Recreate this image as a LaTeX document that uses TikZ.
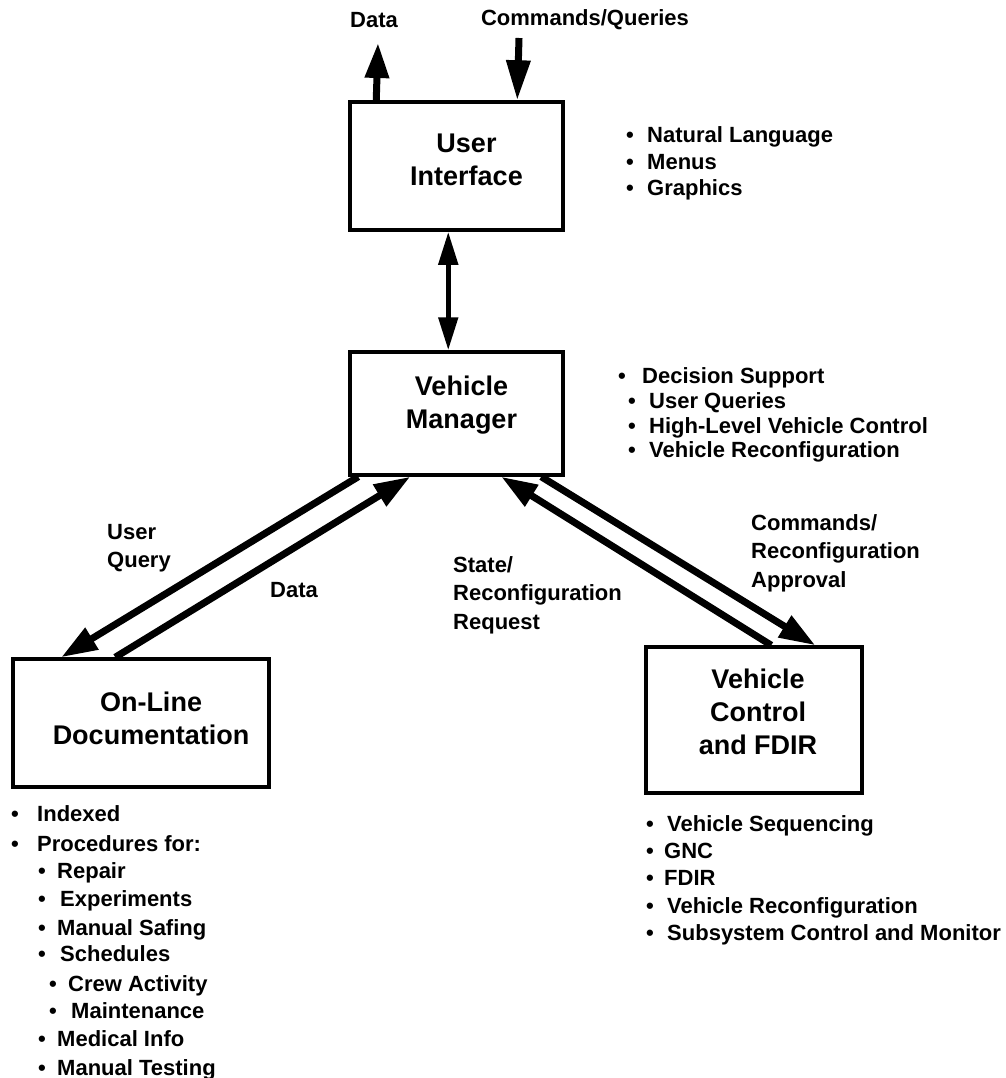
\documentclass[tikz,border=0pt]{standalone}
\usepackage{fontspec}
\setmainfont{Liberation Sans}
\usetikzlibrary{arrows.meta}
\newcommand\blt[5]{%
  \node[bulsty, anchor=base] (#1b) at (#2,#4+8) {•};
  \node[bulsty, anchor=base west] (#1) at (#3,#4+8) {#5};}
\begin{document}
\begin{tikzpicture}[x=1pt,y=-1pt,
  box/.style={draw, line width=3.5pt, inner sep=0pt},
  ttl/.style={align=center, inner sep=0pt, font=\fontsize{27}{33}\selectfont\bfseries},
  lbl/.style={inner sep=0pt, align=left, font=\fontsize{22}{28.5}\selectfont\bfseries},
  bulsty/.style={inner sep=0pt, font=\fontsize{22}{28}\selectfont\bfseries},
  bigarrow/.style={line width=7pt, -{Triangle[length=36pt,width=24pt]}},
  dblarrow/.style={line width=5pt, {Triangle[length=33pt,width=19pt]}-{Triangle[length=33pt,width=19pt]}}]
\useasboundingbox (0,0) rectangle (1005,1078);

% boxes
\node[box, minimum width=213pt, minimum height=128pt,
  label={[ttl, xshift=10pt, yshift=6pt]center:User\\Interface}] (ui) at (456.5,166) {};
\node[box, minimum width=213pt, minimum height=123pt,
  label={[ttl, xshift=5pt, yshift=8pt]center:Vehicle\\Manager}] (vm) at (456.5,413.5) {};
\node[box, minimum width=256pt, minimum height=128pt,
  label={[ttl, xshift=10pt, yshift=5pt]center:On-Line\\Documentation}] (od) at (141,723) {};
\node[box, minimum width=216pt, minimum height=146pt,
  label={[ttl, xshift=4pt, yshift=8pt]center:Vehicle\\Control\\and FDIR}] (vcf) at (754,720) {};

% top connectors
\coordinate (dtip) at (378,43);
\coordinate (ctail) at (519,38);
\draw[bigarrow, -{Triangle[length=35pt,width=23pt]}] ([xshift=28pt]ui.north west) -- (dtip);
\draw[bigarrow, -{Triangle[length=40pt,width=23pt]}] (ctail) -- ([xshift=169pt]ui.north west);
\node[lbl, anchor=center] (ldata) at (374,20) {Data};
\node[lbl, anchor=center] (lcmd) at (585,20) {Commands/Queries};

% UI <-> VM
\draw[dblarrow] ([xshift=100pt]ui.south west) -- ([xshift=100pt]vm.north west);

% VM <-> OD
\draw[bigarrow] ([xshift=10pt]vm.south west) -- ([xshift=50pt]od.north west);
\draw[bigarrow] ([xshift=104pt]od.north west) -- ([xshift=62pt]vm.south west);
\node[lbl, anchor=north west] (luq) at (107,524) {User\\Query};
\node[lbl, anchor=north west] (ldat2) at (270,582) {Data};

% VM <-> VCF
\draw[bigarrow] ([xshift=127pt]vcf.north west) -- ([xshift=153pt]vm.south west);
\draw[bigarrow] ([xshift=193pt]vm.south west) -- ([xshift=171pt]vcf.north west);
\node[lbl, anchor=north west] (lstate) at (453,556) {State/\\Reconfiguration\\Request};
\node[lbl, anchor=north west] (lcra) at (751,514) {Commands/\\Reconfiguration\\Approval};

% UI list
\blt{ui1}{630}{647}{135}{Natural Language}
\blt{ui2}{630}{647}{162}{Menus}
\blt{ui3}{630}{647}{188}{Graphics}

% VM list
\blt{vm1}{622}{642}{375}{Decision Support}
\blt{vm2}{632}{649}{400}{User Queries}
\blt{vm3}{632}{649}{425}{High-Level Vehicle Control}
\blt{vm4}{632}{649}{449}{Vehicle Reconfiguration}

% OD list
\blt{od1}{15}{37}{813}{Indexed}
\blt{od2}{15}{37}{843}{Procedures for:}
\blt{od3}{42}{57}{870}{Repair}
\blt{od4}{42}{60}{898}{Experiments}
\blt{od5}{42}{57}{927}{Manual Safing}
\blt{od6}{42}{60}{953}{Schedules}
\blt{od7}{53}{68}{983}{Crew Activity}
\blt{od8}{53}{71}{1010}{Maintenance}
\blt{od9}{42}{57}{1038}{Medical Info}
\blt{od10}{42}{57}{1067}{Manual Testing}

% VCF list
\blt{vc1}{650}{667}{823}{Vehicle Sequencing}
\blt{vc2}{650}{664}{850}{GNC}
\blt{vc3}{650}{664}{877}{FDIR}
\blt{vc4}{650}{667}{905}{Vehicle Reconfiguration}
\blt{vc5}{650}{667}{932}{Subsystem Control and Monitor}
\end{tikzpicture}
\end{document}
